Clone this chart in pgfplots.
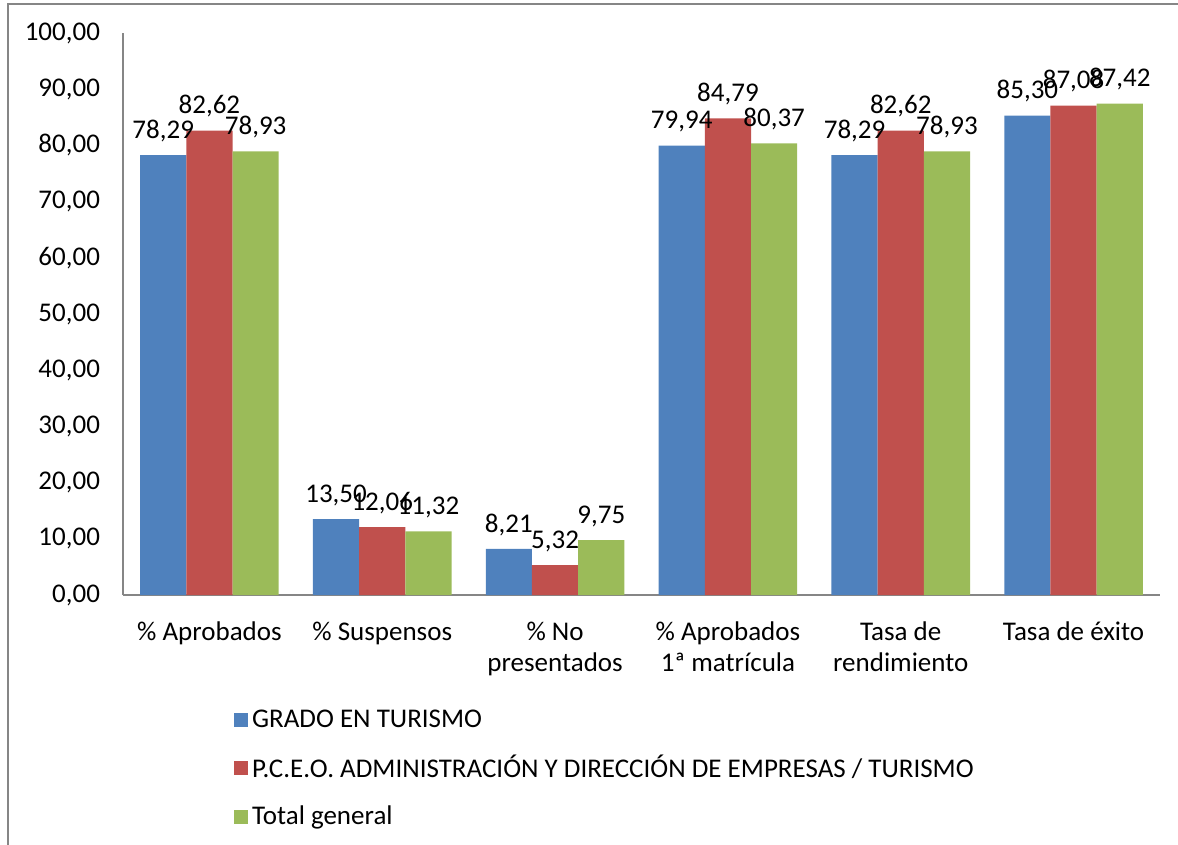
\documentclass[border=0pt]{standalone}
\usepackage{fontspec}
\setmainfont{Carlito}
\usepackage{pgfplots}
\pgfplotsset{compat=1.18}
\definecolor{cblue}{HTML}{4F81BD}
\definecolor{cred}{HTML}{C0504D}
\definecolor{cgreen}{HTML}{9BBB59}
\definecolor{axgray}{HTML}{868686}
\newcommand{\chartfont}{\fontsize{13.5}{15.5}\selectfont}
\begin{document}
\begin{tikzpicture}
\path[use as bounding box] (0,0) rectangle (589pt,-422.5pt);
\draw[axgray, line width=0.6pt] (4pt,-422.5pt) -- (4pt,-2pt) -- (589pt,-2pt);
\begin{axis}[
  at={(61.5pt,-297.5pt)}, anchor=south west,
  scale only axis, width=518.5pt, height=281pt,
  ybar=0pt, bar width=23.1pt,
  xmin=-0.5, xmax=5.5, ymin=0, ymax=100,
  xtick=data,
  xticklabels={{\% Aprobados},{\% Suspensos},{\% No\\presentados},{\% Aprobados\\1ª matrícula},{Tasa de\\rendimiento},{Tasa de éxito}},
  x tick label style={align=center, font=\chartfont, yshift=-10pt},
  ytick={0,10,...,100},
  y tick label style={font=\chartfont, xshift=-8pt},
  yticklabel={\pgfmathprintnumber[fixed, fixed zerofill, precision=2, use comma]{\tick}},
  /pgf/number format/assume math mode=true,
  major tick length=0pt,
  axis x line*=bottom, axis y line*=left,
  axis line style={axgray, line width=0.6pt, -},
  nodes near coords={\pgfmathprintnumber[fixed, fixed zerofill, precision=2, use comma, assume math mode=true]{\pgfplotspointmeta}},
  every node near coord/.append style={font=\chartfont, text=black, inner sep=2pt, yshift=4.5pt},
  legend style={at={(0.101,-0.189)}, anchor=north west, draw=none, fill=none,
    font=\chartfont, row sep=8.5pt, legend cell align=left},
  legend image code/.code={\fill[#1] (0pt,-3.5pt) rectangle (7pt,3.5pt);},
]
\addplot[fill=cblue, draw=none] coordinates {(0,78.29) (1,13.50) (2,8.21) (3,79.94) (4,78.29) (5,85.30)};
\addplot[fill=cred, draw=none] coordinates {(0,82.62) (1,12.06) (2,5.32) (3,84.79) (4,82.62) (5,87.08)};
\addplot[fill=cgreen, draw=none] coordinates {(0,78.93) (1,11.32) (2,9.75) (3,80.37) (4,78.93) (5,87.42)};
\legend{GRADO EN TURISMO, P.C.E.O. ADMINISTRACIÓN Y DIRECCIÓN DE EMPRESAS / TURISMO, Total general}
\end{axis}
\end{tikzpicture}
\end{document}
